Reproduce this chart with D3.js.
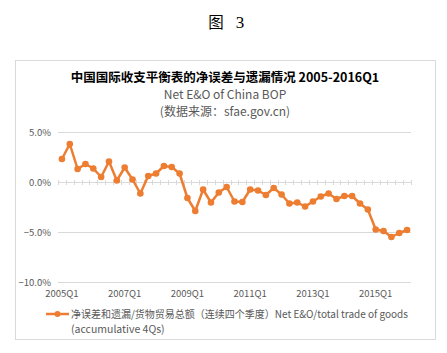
<!DOCTYPE html>
<html><head><meta charset="utf-8">
<script src="https://cdn.jsdelivr.net/npm/d3@7/dist/d3.min.js"></script>
<style>
html,body{margin:0;padding:0;background:#fff;}
svg{display:block;}
</style></head>
<body>
<svg id="chart" width="447" height="353"></svg>
<script>
const categories = (function(){
  const out = [];
  for (let y = 2005; y <= 2016; y++) for (let q = 1; q <= 4; q++) {
    if (y === 2016 && q > 1) break;
    out.push(y + "Q" + q);
  }
  return out;
})();
const values = [2.3, 3.8, 1.3, 1.8, 1.35, 0.5, 2.05, 0.15, 1.45, 0.25,
  -1.15, 0.6, 0.85, 1.6, 1.5, 0.85, -1.6, -2.9, -0.75, -2.05,
  -1.05, -0.5, -1.95, -2.0, -0.75, -0.85, -1.3, -0.6, -1.25, -2.15,
  -2.05, -2.45, -1.95, -1.45, -1.15, -1.7, -1.4, -1.4, -2.15, -2.75,
  -4.75, -4.9, -5.5, -5.1, -4.8];
const yTicks = [5, 0, -5, -10];
const xTickLabels = ["2005Q1", "2007Q1", "2009Q1", "2011Q1", "2013Q1", "2015Q1"];
const figTitleParts = ["图", "3"];
const titles = ["中国国际收支平衡表的净误差与遗漏情况 2005-2016Q1", "Net E&O of China BOP", "(数据来源：sfae.gov.cn)"];
const legendLines = ["净误差和遗漏/货物贸易总额（连续四个季度）Net E&O/total trade of goods", "(accumulative 4Qs)"];

const svg = d3.select("#chart");
const font = "'Noto Sans CJK SC', 'Noto Sans', sans-serif";
const orange = "#ED7D31";
const grid = "#d9d9d9";
const txt = "#595959";

svg.append("text").attr("x", 216).attr("y", 28).attr("text-anchor", "middle")
  .attr("font-family", "'Noto Sans CJK SC', serif").attr("font-size", 15.5)
  .attr("fill", "#000").text(figTitleParts[0]);
svg.append("text").attr("x", 240).attr("y", 28).attr("text-anchor", "middle")
  .attr("font-family", "'Liberation Serif', 'DejaVu Serif', serif").attr("font-size", 17)
  .attr("fill", "#000").text(figTitleParts[1]);

svg.append("rect").attr("x", 15.5).attr("y", 60.5).attr("width", 420).attr("height", 279)
  .attr("fill", "#fff").attr("stroke", grid).attr("stroke-width", 1);

svg.append("text").attr("x", 225).attr("y", 82).attr("text-anchor", "middle")
  .attr("font-family", font).attr("font-size", 12.5).attr("font-weight", "bold")
  .attr("fill", "#000").text(titles[0]);
svg.append("text").attr("x", 225).attr("y", 98.5).attr("text-anchor", "middle")
  .attr("font-family", font).attr("font-size", 12).attr("fill", txt).text(titles[1]);
svg.append("text").attr("x", 225).attr("y", 115.5).attr("text-anchor", "middle")
  .attr("font-family", font).attr("font-size", 12).attr("fill", txt).text(titles[2]);

const x = d3.scaleBand().domain(categories).range([58, 411]);
const y = d3.scaleLinear().domain([-10, 5]).range([282, 132]);

// gridlines
svg.append("g").selectAll("line").data(yTicks).join("line")
  .attr("x1", 58).attr("x2", 411)
  .attr("y1", d => Math.round(y(d)) + 0.5).attr("y2", d => Math.round(y(d)) + 0.5)
  .attr("stroke", grid).attr("stroke-width", 1);

// y labels
svg.append("g").selectAll("text").data(yTicks).join("text")
  .attr("x", 51).attr("y", d => y(d) + 3.5).attr("text-anchor", "end")
  .attr("font-family", font).attr("font-size", 9.5).attr("fill", txt)
  .text(d => d3.format(".1f")(d) + "%");

// category minor ticks on zero line
const bounds = categories.map(c => x(c)).concat([x.range()[1]]);
svg.append("g").selectAll("line").data(bounds).join("line")
  .attr("x1", d => Math.round(d) + 0.5).attr("x2", d => Math.round(d) + 0.5)
  .attr("y1", y(0) - 2).attr("y2", y(0) + 3)
  .attr("stroke", grid).attr("stroke-width", 1);

// x labels
svg.append("g").selectAll("text").data(xTickLabels).join("text")
  .attr("x", d => x(d) + x.bandwidth() / 2).attr("y", 297).attr("text-anchor", "middle")
  .attr("font-family", font).attr("font-size", 9.5).attr("fill", txt).text(d => d);

// line
const data = categories.map((c, i) => ({c, v: values[i]}));
const line = d3.line().x(d => x(d.c) + x.bandwidth() / 2).y(d => y(d.v));
svg.append("path").datum(data).attr("d", line).attr("fill", "none")
  .attr("stroke", orange).attr("stroke-width", 2.5).attr("stroke-linejoin", "round");
svg.append("g").selectAll("circle").data(data).join("circle")
  .attr("cx", d => x(d.c) + x.bandwidth() / 2).attr("cy", d => y(d.v)).attr("r", 3.3)
  .attr("fill", orange);

// legend
svg.append("line").attr("x1", 46).attr("x2", 69).attr("y1", 314).attr("y2", 314)
  .attr("stroke", orange).attr("stroke-width", 2.5);
svg.append("circle").attr("cx", 57.5).attr("cy", 314).attr("r", 3).attr("fill", orange);
svg.append("text").attr("x", 71).attr("y", 318).attr("font-family", font)
  .attr("font-size", 10.5).attr("fill", txt).attr("textLength", 337).attr("lengthAdjust", "spacingAndGlyphs")
  .text(legendLines[0]);
svg.append("text").attr("x", 71).attr("y", 333).attr("font-family", font)
  .attr("font-size", 10.5).attr("fill", txt).text(legendLines[1]);
</script>
</body></html>
